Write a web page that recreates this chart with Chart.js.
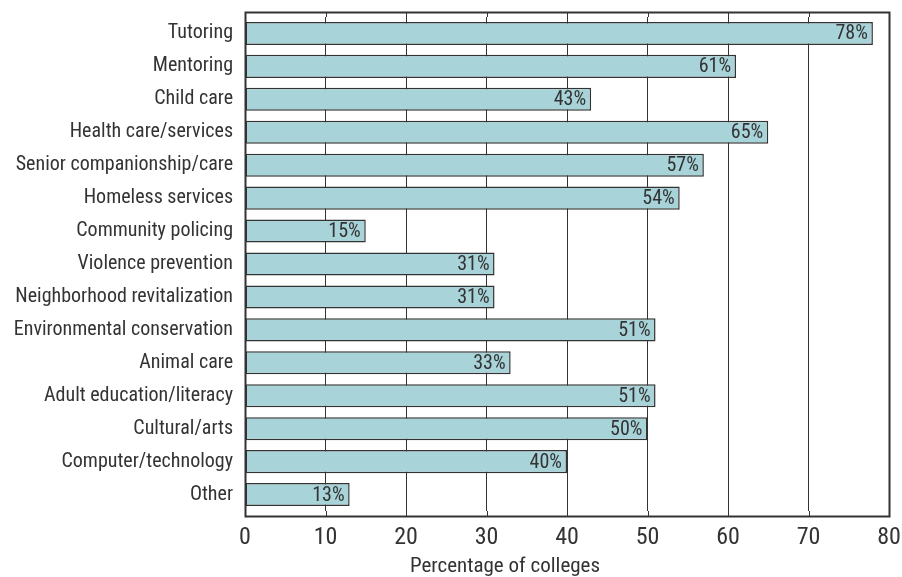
<!DOCTYPE html>
<html>
<head>
<meta charset="utf-8">
<script src="https://cdn.jsdelivr.net/npm/chart.js@4"></script>
<style>
  html, body { margin: 0; padding: 0; background: #fff; }
  #wrap { width: 902px; height: 577px; }
</style>
</head>
<body>
<div id="wrap"><canvas id="chart"></canvas></div>
<script>
const categories = [
  "Tutoring", "Mentoring", "Child care", "Health care/services",
  "Senior companionship/care", "Homeless services", "Community policing",
  "Violence prevention", "Neighborhood revitalization",
  "Environmental conservation", "Animal care", "Adult education/literacy",
  "Cultural/arts", "Computer/technology", "Other"
];
const percentages = [78, 61, 43, 65, 57, 54, 15, 31, 31, 51, 33, 51, 50, 40, 13];
const xTicks = [0, 10, 20, 30, 40, 50, 60, 70, 80];
const xTitle = "Percentage of colleges";

const FONT = "'Liberation Sans Narrow', 'Roboto Condensed', 'DejaVu Sans Condensed', sans-serif";
const EXT = 5; // box sits a little outside the category band

/* grid extension, plot box, value labels, axis title */
const frame = {
  id: "frame",
  afterDraw(chart) {
    const ctx = chart.ctx;
    const a = chart.chartArea;
    const xs = chart.scales.x;
    const top = a.top - EXT, bottom = a.bottom + EXT;
    ctx.save();
    ctx.strokeStyle = "#333";
    ctx.lineWidth = 1;
    ctx.beginPath();
    xTicks.forEach(v => {
      const px = Math.round(xs.getPixelForValue(v)) + 0.5;
      ctx.moveTo(px, top);
      ctx.lineTo(px, a.top);
      ctx.moveTo(px, a.bottom);
      ctx.lineTo(px, bottom);
    });
    ctx.stroke();

    const l = Math.round(a.left) + 0.5, r = Math.round(a.right) + 0.5;
    const t = Math.round(top) + 0.5, b = Math.round(bottom) + 0.5;
    ctx.lineWidth = 2;
    ctx.beginPath();
    ctx.moveTo(l, t);
    ctx.lineTo(r, t);
    ctx.lineTo(r, b);
    ctx.lineTo(l, b);
    ctx.closePath();
    ctx.stroke();

    const meta = chart.getDatasetMeta(0);
    ctx.font = "20px " + FONT;
    ctx.fillStyle = "#333";
    ctx.textAlign = "right";
    ctx.textBaseline = "middle";
    meta.data.forEach((bar, i) => {
      ctx.fillText(percentages[i] + "%", bar.x - 5, bar.y + 1);
    });
    ctx.font = "21px " + FONT;
    ctx.textAlign = "center";
    ctx.fillText(xTitle, 505, 567);
    ctx.restore();
  }
};

new Chart(document.getElementById("chart"), {
  type: "bar",
  data: {
    labels: categories,
    datasets: [{
      data: percentages,
      backgroundColor: "#a8d3d8",
      borderColor: "#333",
      borderWidth: 1.5,
      borderSkipped: false,
      barPercentage: 0.70,
      categoryPercentage: 1
    }]
  },
  options: {
    indexAxis: "y",
    responsive: true,
    maintainAspectRatio: false,
    animation: false,
    layout: { padding: { top: 17, right: 13, left: 0, bottom: 0 } },
    plugins: {
      legend: { display: false },
      tooltip: { enabled: false }
    },
    scales: {
      x: {
        min: 0,
        max: 80,
        afterBuildTicks: axis => { axis.ticks = xTicks.map(v => ({ value: v })); },
        afterFit: axis => {
          axis.height = 66;
          axis.paddingLeft = 0;
          axis.paddingRight = 0;
        },
        grid: { color: "#333", lineWidth: 1, drawTicks: false },
        border: { display: false },
        ticks: {
          color: "#333",
          font: { family: FONT, size: 24 },
          padding: 13
        }
      },
      y: {
        afterFit: axis => {
          axis.width = 245;
          axis.paddingTop = 0;
          axis.paddingBottom = 0;
        },
        grid: { display: false, drawTicks: false },
        border: { display: false },
        ticks: {
          color: "#333",
          font: { family: FONT, size: 20 },
          padding: 12
        }
      }
    }
  },
  plugins: [frame]
});
</script>
</body>
</html>
